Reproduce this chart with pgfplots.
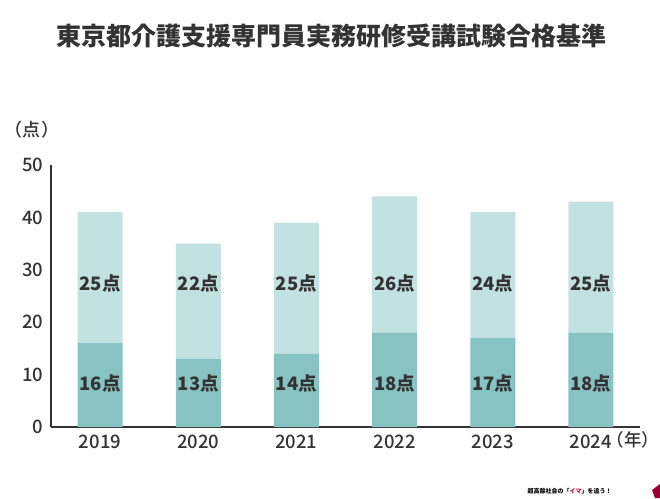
\documentclass[border=0pt]{standalone}
\usepackage{pgfplots}
\pgfplotsset{compat=1.18}
\usepackage{fontspec}
\setmainfont{Noto Sans CJK JP}
\newfontfamily\medfont{Noto Sans CJK JP Medium}
\definecolor{darkteal}{HTML}{86C3C2}
\definecolor{lightteal}{HTML}{C2E1E1}
\definecolor{txt}{HTML}{333333}
\tikzset{lbl/.style={font=\fontsize{18.5}{22}\selectfont\bfseries, text=txt}}
\begin{document}
\begin{tikzpicture}[x=1pt,y=1pt]
\path[use as bounding box] (0,0) rectangle (660,498);
\node[font=\fontsize{25}{30}\selectfont\bfseries, text=txt] at (331,462) {東京都介護支援専門員実務研修受講試験合格基準};
\node[font=\fontsize{18}{21}\selectfont\medfont, text=txt] at (32,368) {（点）};
\node[font=\fontsize{17.5}{21}\selectfont\medfont, text=txt, anchor=east, inner sep=0pt] at (659.5,58) {（年）};
\node[font=\fontsize{6}{7}\selectfont\bfseries, text=black, anchor=west] at (524,7) {超高齢社会の「\textcolor{purple}{イマ}」を追う！};
\fill[purple!80!black] (655,0) -- (660,0) -- (660,14) -- (652,8) -- cycle;
\begin{axis}[
  at={(51pt,71pt)}, anchor=south west,
  scale only axis, width=589pt, height=262pt,
  ybar stacked, bar width=45pt,
  xmin=-0.5, xmax=5.5, ymin=0, ymax=50,
  xtick={0,1,2,3,4,5},
  xticklabels={2019,2020,2021,2022,2023,2024},
  ytick={0,10,20,30,40,50},
  axis x line*=bottom, axis y line*=left,
  axis line style={txt, line width=1.2pt},
  major tick length=0pt,
  x axis line style={-}, y axis line style={-},
  tick label style={font=\fontsize{18.5}{22}\selectfont\medfont, text=txt},
  /pgf/number format/assume math mode=true,
  xticklabel style={yshift=-4pt},
  yticklabel style={xshift=-4pt},
  clip=false,
]
\addplot[fill=darkteal, draw=none] coordinates {(0,16) (1,13) (2,14) (3,18) (4,17) (5,18)};
\addplot[fill=lightteal, draw=none] coordinates {(0,25) (1,22) (2,25) (3,26) (4,24) (5,25)};
\coordinate (l0) at (axis cs:0,8.3);
\coordinate (l1) at (axis cs:1,8.3);
\coordinate (l2) at (axis cs:2,8.3);
\coordinate (l3) at (axis cs:3,8.3);
\coordinate (l4) at (axis cs:4,8.3);
\coordinate (l5) at (axis cs:5,8.3);
\coordinate (h0) at (axis cs:0,27.4);
\coordinate (h1) at (axis cs:1,27.4);
\coordinate (h2) at (axis cs:2,27.4);
\coordinate (h3) at (axis cs:3,27.4);
\coordinate (h4) at (axis cs:4,27.4);
\coordinate (h5) at (axis cs:5,27.4);
\end{axis}
\node[lbl] at (l0) {16点};
\node[lbl] at (l1) {13点};
\node[lbl] at (l2) {14点};
\node[lbl] at (l3) {18点};
\node[lbl] at (l4) {17点};
\node[lbl] at (l5) {18点};
\node[lbl] at (h0) {25点};
\node[lbl] at (h1) {22点};
\node[lbl] at (h2) {25点};
\node[lbl] at (h3) {26点};
\node[lbl] at (h4) {24点};
\node[lbl] at (h5) {25点};
\end{tikzpicture}
\end{document}
